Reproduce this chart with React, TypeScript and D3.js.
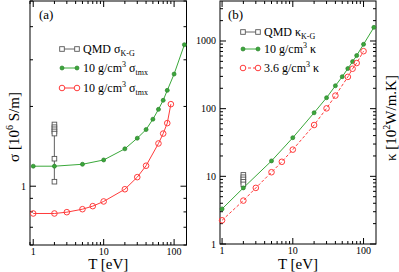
import React from 'react';
import * as d3 from 'd3';

// Panel (a): electrical conductivity sigma [10^6 S/m]
const sigTmxT = [1, 2, 5, 10, 20, 30, 40, 50, 60, 70, 80, 100, 140];
const sigTmx10 = [1.19, 1.19, 1.21, 1.256, 1.384, 1.518, 1.636, 1.79, 1.95, 2.11, 2.3, 2.65, 3.42];
const sigRedT = [1, 2, 3, 5, 7, 10, 20, 30, 40, 60, 70, 80, 90];
const sigRed = [0.789, 0.789, 0.798, 0.819, 0.841, 0.876, 0.974, 1.082, 1.195, 1.45, 1.58, 1.73, 2.04];
const sigQmdT = 2;
const sigQmd = [1.71, 1.67, 1.64, 1.61, 1.58, 1.27, 1.04];

// Panel (b): thermal conductivity kappa [10^2 W/m.K]
const kapGreenT = [1, 2, 5, 10, 20, 30, 40, 50, 60, 70, 80, 100, 140];
const kapGreen = [3.3, 6.75, 16.9, 37.2, 87, 145, 218, 297, 392, 496, 610, 893, 1590];
const kapRedT = [1, 2, 3, 5, 7, 10, 20, 30, 40, 60, 70, 80, 100];
const kapRed = [2.24, 4.38, 6.75, 11.5, 16.4, 24.8, 57.3, 101, 156, 295, 389, 472, 707];
const kapQmdT = 2;
const kapQmd = [10.5, 9.7, 9.0, 8.3, 7.6];

const xTickLabels = ['1', '10', '100'];

const GREEN = '#3aa83a';
const GREEN_DARK = '#2d7f2d';
const RED = '#ff3b3b';
const GRAY = '#555';
const SERIF = 'Liberation Serif, Times New Roman, DejaVu Serif, serif';

const isMajor = (v: number) => Math.abs(Math.log10(v) - Math.round(Math.log10(v))) < 1e-9;

type Pt = [number, number];

function Frame({ x, y, yLabels }: { x: d3.ScaleLogarithmic<number, number>; y: d3.ScaleLogarithmic<number, number>; yLabels: string[] }) {
  const [x0, x1] = x.range();
  const [y0, y1] = y.range(); // y0 bottom, y1 top
  const xt = x.ticks();
  const yt = y.ticks();
  return (
    <g>
      <rect x={x0} y={y1} width={x1 - x0} height={y0 - y1} fill="none" stroke="#000" strokeWidth={1} />
      {xt.map((t, i) => {
        const L = isMajor(t) ? 6 : 3;
        const px = x(t);
        return (
          <g key={'x' + i}>
            <line x1={px} x2={px} y1={y0} y2={y0 - L} stroke="#000" />
            <line x1={px} x2={px} y1={y1} y2={y1 + L} stroke="#000" />
          </g>
        );
      })}
      {yt.map((t, i) => {
        const L = isMajor(t) ? 6 : 3;
        const py = y(t);
        return (
          <g key={'y' + i}>
            <line x1={x0} x2={x0 + L} y1={py} y2={py} stroke="#000" />
            <line x1={x1} x2={x1 - L} y1={py} y2={py} stroke="#000" />
          </g>
        );
      })}
      {xTickLabels.map((s) => (
        <text key={'xl' + s} x={x(+s)} y={y0 + 9.5} fontSize={10} fontFamily={SERIF} textAnchor="middle">{s}</text>
      ))}
      {yLabels.map((s) => (
        <text key={'yl' + s} x={x0 - 4} y={y(+s) + 3.5} fontSize={10} fontFamily={SERIF} textAnchor="end">{s}</text>
      ))}
      <text x={(x0 + x1) / 2} y={269} fontSize={15} fontFamily={SERIF} textAnchor="middle">T [eV]</text>
    </g>
  );
}

function Series({ pts, x, y, kind, dashed }: { pts: Pt[]; x: any; y: any; kind: 'green' | 'red'; dashed?: boolean }) {
  const line = d3.line<Pt>().x((d) => x(d[0])).y((d) => y(d[1]));
  const color = kind === 'green' ? GREEN : RED;
  return (
    <g>
      <path d={line(pts) || ''} fill="none" stroke={color} strokeWidth={1} strokeDasharray={dashed ? '3 2' : undefined} />
      {pts.map((d, i) =>
        kind === 'green' ? (
          <circle key={i} cx={x(d[0])} cy={y(d[1])} r={2} fill={GREEN} stroke={GREEN_DARK} strokeWidth={0.7} />
        ) : (
          <circle key={i} cx={x(d[0])} cy={y(d[1])} r={2.8} fill="none" stroke={color} strokeWidth={1} />
        )
      )}
    </g>
  );
}

function Qmd({ t, vals, x, y }: { t: number; vals: number[]; x: any; y: any }) {
  const px = x(t);
  const ext = d3.extent(vals) as [number, number];
  return (
    <g>
      <line x1={px} x2={px} y1={y(ext[0])} y2={y(ext[1])} stroke="#777" strokeWidth={1.2} />
      {vals.map((v, i) => (
        <rect key={i} x={px - 2.3} y={y(v) - 2.3} width={4.6} height={4.6} fill="#fff" stroke={GRAY} strokeWidth={0.9} />
      ))}
    </g>
  );
}

function LegendRow({ x, y, kind, dashed, children }: { x: number; y: number; kind: 'qmd' | 'green' | 'red'; dashed?: boolean; children: React.ReactNode }) {
  const x2 = x + 15;
  const col = kind === 'qmd' ? '#666' : kind === 'green' ? GREEN : RED;
  return (
    <g>
      <line x1={x} x2={x2} y1={y} y2={y} stroke={col} strokeWidth={1} strokeDasharray={dashed ? '3 2' : undefined} />
      {[x, x2].map((cx, i) =>
        kind === 'qmd' ? (
          <rect key={i} x={cx - 2.3} y={y - 2.3} width={4.6} height={4.6} fill="#fff" stroke={GRAY} strokeWidth={0.9} />
        ) : kind === 'green' ? (
          <circle key={i} cx={cx} cy={y} r={2} fill={GREEN} stroke={GREEN_DARK} strokeWidth={0.7} />
        ) : (
          <circle key={i} cx={cx} cy={y} r={2.8} fill="#fff" stroke={RED} strokeWidth={1} />
        )
      )}
      <text x={x2 + 6} y={y + 4} fontSize={12} fontFamily={SERIF}>{children}</text>
    </g>
  );
}

const zip = (a: number[], b: number[]): Pt[] => a.map((t, i) => [t, b[i]]);

export default function App() {
  const xa = d3.scaleLog().domain([0.9, 150]).range([30, 186.5]);
  const ya = d3.scaleLog().domain([0.6, 5]).range([245, 1]);
  const xb = d3.scaleLog().domain([0.935, 150]).range([220, 376]);
  const yb = d3.scaleLog().domain([1, 3900]).range([244, 1]);

  return (
    <svg width={399} height={272} style={{ position: 'absolute', left: 0, top: 0, background: '#fff' }}>
      {/* Panel (a) */}
      <Frame x={xa} y={ya} yLabels={['1']} />
      <Qmd t={sigQmdT} vals={sigQmd} x={xa} y={ya} />
      <Series pts={zip(sigTmxT, sigTmx10)} x={xa} y={ya} kind="green" />
      <Series pts={zip(sigRedT, sigRed)} x={xa} y={ya} kind="red" />
      <text x={39} y={19} fontSize={13} fontFamily={SERIF}>(a)</text>
      <LegendRow x={62} y={49} kind="qmd">
        QMD σ<tspan dy={3} fontSize={8}>K-G</tspan>
      </LegendRow>
      <LegendRow x={62} y={68} kind="green">
        10 g/cm<tspan dy={-5} fontSize={8}>3</tspan><tspan dy={5}> σ</tspan><tspan dy={3} fontSize={8}>tmx</tspan>
      </LegendRow>
      <LegendRow x={62} y={88} kind="red">
        10 g/cm<tspan dy={-5} fontSize={8}>3</tspan><tspan dy={5}> σ</tspan><tspan dy={3} fontSize={8}>tmx</tspan>
      </LegendRow>
      <text transform="translate(19,127) rotate(-90)" fontSize={15} fontFamily={SERIF} textAnchor="middle">
        σ [10<tspan dy={-6} fontSize={10}>6</tspan><tspan dy={6}> S/m]</tspan>
      </text>

      {/* Panel (b) */}
      <Frame x={xb} y={yb} yLabels={['1', '10', '100', '1000']} />
      <Qmd t={kapQmdT} vals={kapQmd} x={xb} y={yb} />
      <Series pts={zip(kapGreenT, kapGreen)} x={xb} y={yb} kind="green" />
      <Series pts={zip(kapRedT, kapRed)} x={xb} y={yb} kind="red" dashed />
      <text x={228} y={19} fontSize={13} fontFamily={SERIF}>(b)</text>
      <LegendRow x={243} y={32} kind="qmd">
        QMD κ<tspan dy={3} fontSize={8}>K-G</tspan>
      </LegendRow>
      <LegendRow x={243} y={49} kind="green">
        10 g/cm<tspan dy={-5} fontSize={8}>3</tspan><tspan dy={5}> κ</tspan>
      </LegendRow>
      <LegendRow x={243} y={68} kind="red" dashed>
        3.6 g/cm<tspan dy={-5} fontSize={8}>3</tspan><tspan dy={5}> κ</tspan>
      </LegendRow>
      <text transform="translate(396,118) rotate(-90)" fontSize={15} fontFamily={SERIF} textAnchor="middle">
        κ [10<tspan dy={-6} fontSize={10}>2</tspan><tspan dy={6}>W/m.K]</tspan>
      </text>
    </svg>
  );
}
